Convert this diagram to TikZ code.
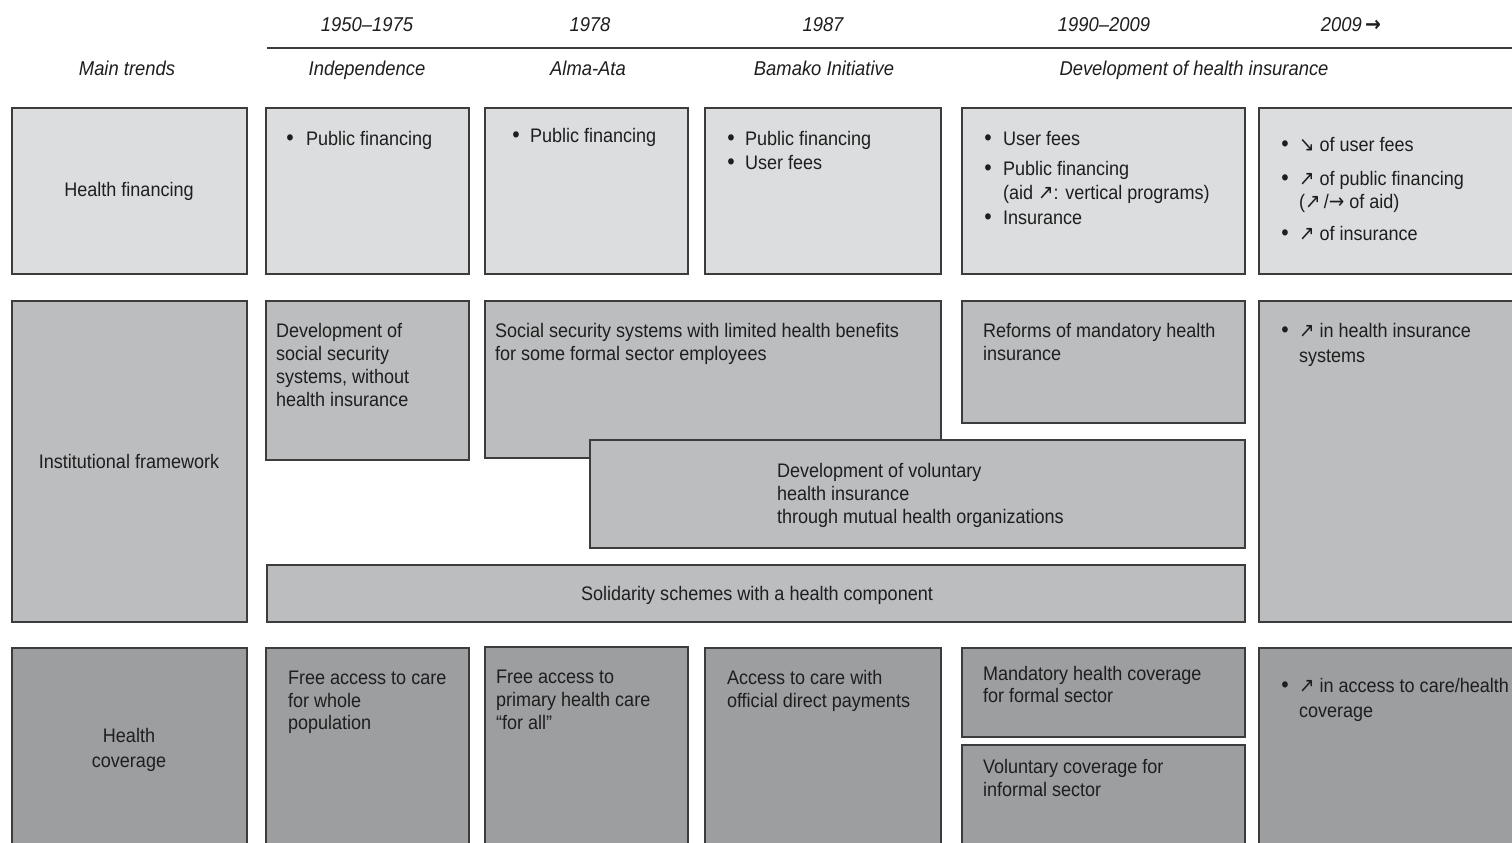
\documentclass[tikz,border=0pt]{standalone}
\usepackage{fontspec}
\setmainfont{Liberation Sans}[FakeStretch=0.92]
\newfontfamily\arrfont{DejaVu Sans}[Scale=1.05,FakeStretch=0.9]
\newcommand\NEa{{\arrfont ↗}}
\newcommand\SEa{{\arrfont ↘}}
\newcommand\EAa{{\arrfont →}}
\definecolor{edge}{HTML}{3C3C3C}
\definecolor{fillA}{HTML}{DCDDDF}
\definecolor{fillB}{HTML}{BCBDBF}
\definecolor{fillC}{HTML}{9D9EA0}
\definecolor{ink}{HTML}{1E1E1E}
\newcommand\Bx[6]{\draw[#6] (#2,#3) rectangle (#4,#5) coordinate (#1);}
\newcommand\Bul[5]{\node[anchor=base] (#1b) at (#2,#4) {\fontsize{11.5}{11.5}\selectfont\textbullet}; \node[txt] (#1) at (#3,#4) {#5};}
\begin{document}
\begin{tikzpicture}[x=0.5pt,y=-0.5pt,
  every node/.style={inner sep=0pt,outer sep=0pt,text=ink,font=\fontsize{9.8}{11.5}\selectfont},
  txt/.style={anchor=base west},
  ctr/.style={anchor=base},
  hdr/.style={anchor=base,font=\fontsize{10}{11.5}\selectfont\itshape},
  boxA/.style={draw=edge,line width=0.6pt,fill=fillA},
  boxB/.style={draw=edge,line width=0.6pt,fill=fillB},
  boxC/.style={draw=edge,line width=0.6pt,fill=fillC}]
\useasboundingbox (0,0) rectangle (1512,842);
\clip (0,0) rectangle (1512,842);

% ---- header ----
\node[hdr] (y1) at (367,31) {1950–1975};
\node[hdr] (y2) at (590,31) {1978};
\node[hdr] (y3) at (823,31) {1987};
\node[hdr] (y4) at (1104,31) {1990–2009};
\node[hdr] (y5) at (1351,31) {2009\,{\upshape\arrfont\bfseries →}};
\coordinate (tl0) at (267,48);
\coordinate (tl1) at (1512,48);
\draw[edge,line width=1pt] (tl0) -- (tl1);
\node[hdr] (t0) at (127,75) {Main trends};
\node[hdr] (t1) at (367,75) {Independence};
\node[hdr] (t2) at (588,75) {Alma-Ata};
\node[hdr] (t3) at (824,75) {Bamako Initiative};
\node[hdr] (t4) at (1194,75) {Development of health insurance};

% ---- row 1: health financing ----
\Bx{r1l}{12}{108}{247}{274}{boxA}
\Bx{r1a}{266}{108}{469}{274}{boxA}
\Bx{r1b}{485}{108}{688}{274}{boxA}
\Bx{r1c}{705}{108}{941}{274}{boxA}
\Bx{r1d}{962}{108}{1245}{274}{boxA}
\Bx{r1e}{1259}{108}{1530}{274}{boxA}
\node[ctr] (hf) at (129,196) {Health financing};
\Bul{a1}{290}{306}{145}{Public financing}
\Bul{b1}{516}{530}{142}{Public financing}
\Bul{c1}{731}{745}{145}{Public financing}
\Bul{c2}{731}{745}{169}{User fees}
\Bul{d1}{988}{1003}{145}{User fees}
\Bul{d2}{988}{1003}{175}{Public financing}
\node[txt] (d2x) at (1003,199) {(aid \NEa: vertical programs)};
\Bul{d3}{988}{1003}{224}{Insurance}
\Bul{e1}{1285}{1299}{151}{\SEa\ of user fees}
\Bul{e2}{1285}{1299}{185}{\NEa\ of public financing}
\node[txt] (e2x) at (1299,208) {(\NEa\,/\EAa\ of aid)};
\Bul{e3}{1285}{1299}{240}{\NEa\ of insurance}

% ---- row 2: institutional framework ----
\Bx{r2l}{12}{301}{247}{622}{boxB}
\Bx{r2a}{266}{301}{469}{460}{boxB}
\Bx{r2b}{485}{301}{941}{458}{boxB}
\Bx{r2c}{962}{301}{1245}{423}{boxB}
\Bx{r2d}{590}{440}{1245}{548}{boxB}
\Bx{r2e}{267}{565}{1245}{622}{boxB}
\Bx{r2f}{1259}{301}{1530}{622}{boxB}
\node[ctr] (inf) at (129,468) {Institutional framework};
\node[txt] (a2a) at (276,337) {Development of};
\node[txt] (a2b) at (276,360) {social security};
\node[txt] (a2c) at (276,383) {systems, without};
\node[txt] (a2d) at (276,406) {health insurance};
\node[txt] (b2a) at (495,337) {Social security systems with limited health benefits};
\node[txt] (b2b) at (495,360) {for some formal sector employees};
\node[txt] (c2a) at (983,337) {Reforms of mandatory health};
\node[txt] (c2b) at (983,360) {insurance};
\node[txt] (d2a) at (777,477) {Development of voluntary};
\node[txt] (d2b) at (777,500) {health insurance};
\node[txt] (d2c) at (777,523) {through mutual health organizations};
\node[ctr] (sol) at (757,600) {Solidarity schemes with a health component};
\Bul{f1}{1285}{1299}{337}{\NEa\ in health insurance}
\node[txt] (f1x) at (1299,362) {systems};

% ---- row 3: health coverage ----
\Bx{r3l}{12}{648}{247}{860}{boxC}
\Bx{r3a}{266}{648}{469}{860}{boxC}
\Bx{r3b}{485}{647}{688}{860}{boxC}
\Bx{r3c}{705}{648}{941}{860}{boxC}
\Bx{r3d}{962}{648}{1245}{737}{boxC}
\Bx{r3e}{962}{745}{1245}{860}{boxC}
\Bx{r3f}{1259}{648}{1530}{860}{boxC}
\node[ctr] (hc1) at (129,742) {Health};
\node[ctr] (hc2) at (129,767) {coverage};
\node[txt] (a3a) at (288,684) {Free access to care};
\node[txt] (a3b) at (288,707) {for whole};
\node[txt] (a3c) at (288,729) {population};
\node[txt] (b3a) at (496,683) {Free access to};
\node[txt] (b3b) at (496,706) {primary health care};
\node[txt] (b3c) at (496,729) {“for all”};
\node[txt] (c3a) at (727,684) {Access to care with};
\node[txt] (c3b) at (727,707) {official direct payments};
\node[txt] (d3a) at (983,680) {Mandatory health coverage};
\node[txt] (d3b) at (983,702) {for formal sector};
\node[txt] (e3a) at (983,773) {Voluntary coverage for};
\node[txt] (e3b) at (983,796) {informal sector};
\Bul{g1}{1285}{1299}{692}{\NEa\ in access to care/health}
\node[txt] (g1x) at (1299,717) {coverage};
\end{tikzpicture}
\end{document}
